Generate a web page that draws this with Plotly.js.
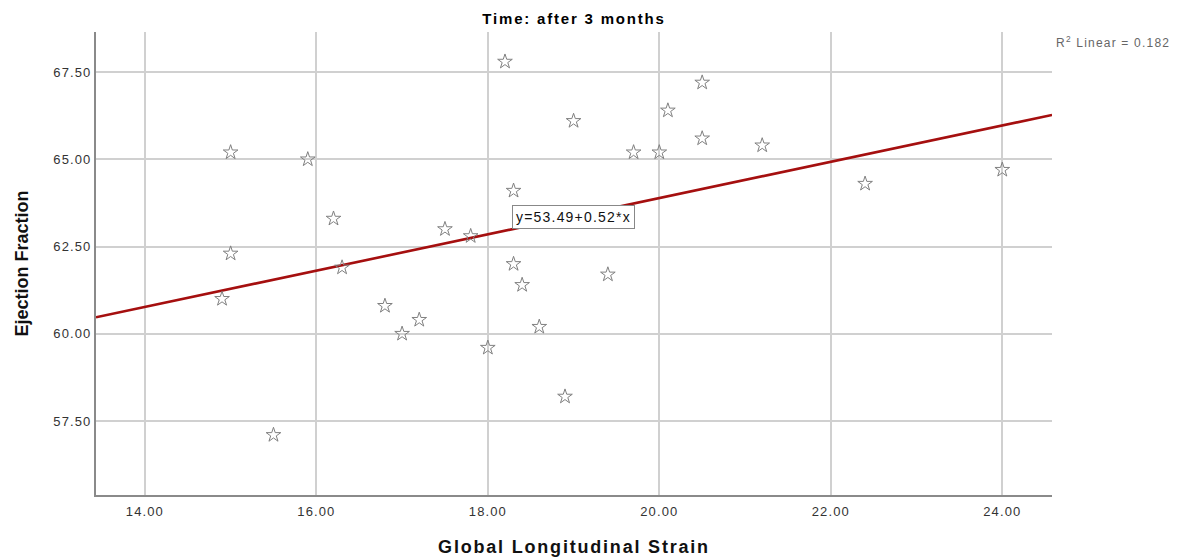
<!DOCTYPE html>
<html>
<head>
<meta charset="utf-8">
<script src="https://cdn.plot.ly/plotly-3.0.1.min.js"></script>
<style>
html,body{margin:0;padding:0;background:#fff;}
#chart{width:1184px;height:557px;}
.gtitle{letter-spacing:1.8px;}
.xtitle{letter-spacing:1.8px;}
.xtick text,.ytick text{letter-spacing:1.1px;}
.annotation-text{letter-spacing:1.2px;}
</style>
</head>
<body>
<div id="chart"></div>
<script>
const strainValues = [14.9, 15.0, 15.0, 15.5, 15.9, 16.2, 16.3, 16.8, 17.0, 17.2, 17.5, 17.8, 18.0, 18.2, 18.3, 18.3, 18.4, 18.6, 18.9, 19.0, 19.4, 19.7, 20.0, 20.1, 20.5, 20.5, 21.2, 22.4, 24.0];
const efValues =     [61.0, 65.2, 62.3, 57.1, 65.0, 63.3, 61.9, 60.8, 60.0, 60.4, 63.0, 62.8, 59.6, 67.8, 64.1, 62.0, 61.4, 60.2, 58.2, 66.1, 61.7, 65.2, 65.2, 66.4, 67.2, 65.6, 65.4, 64.3, 64.7];
const fitIntercept = 53.49;
const fitSlope = 0.52;
const rSquared = 0.182;
const xTicks = [14, 16, 18, 20, 22, 24];
const yTicks = [57.5, 60, 62.5, 65, 67.5];
const xRange = [13.43, 24.58];
const yRange = [55.38, 68.65];

const fitX = [xRange[0], xRange[1]];
const fitY = fitX.map(x => fitIntercept + fitSlope * x);

const traces = [
  {
    x: fitX, y: fitY, mode: 'lines', type: 'scatter',
    line: {color: '#A50F0F', width: 2.6}, hoverinfo: 'skip'
  },
  {
    x: strainValues, y: efValues, mode: 'markers', type: 'scatter',
    marker: {symbol: 'star-open', size: 11, color: '#808080', line: {width: 1, color: '#808080'}}
  }
];

const layout = {
  width: 1184, height: 557,
  margin: {l: 96, r: 132, t: 32, b: 62},
  paper_bgcolor: '#fff', plot_bgcolor: '#fff',
  showlegend: false,
  font: {family: 'Liberation Sans, Arial, sans-serif', color: '#333'},
  title: {text: '<b>Time: after 3 months</b>', x: 0.5, xref: 'paper', y: 0.967, yanchor: 'middle', font: {size: 15, color: '#000'}},
  xaxis: {
    range: xRange, tickvals: xTicks, ticktext: xTicks.map(v => v.toFixed(2)),
    showgrid: true, gridcolor: '#d0d0d0', gridwidth: 2,
    showline: true, linecolor: '#8a8a8a', linewidth: 2, zeroline: false,
    ticks: '', ticklabelstandoff: 3, tickfont: {size: 13, color: '#333'},
    title: {text: '<b>Global Longitudinal Strain</b>', font: {size: 18, color: '#111'}, standoff: 24}
  },
  yaxis: {
    range: yRange, tickvals: yTicks, ticktext: yTicks.map(v => v.toFixed(2)),
    showgrid: true, gridcolor: '#d0d0d0', gridwidth: 2,
    showline: true, linecolor: '#8a8a8a', linewidth: 2, zeroline: false,
    ticks: '', tickfont: {size: 13, color: '#333'},
    title: {text: '<b>Ejection Fraction</b>', font: {size: 18, color: '#111'}, standoff: 20}
  },
  annotations: [
    {
      x: 1.0638, y: 0.978, xref: 'paper', yref: 'paper', showarrow: false,
      text: 'R<sup>2</sup> Linear = ' + rSquared.toFixed(3),
      font: {size: 12, color: '#666'}, xanchor: 'center', yanchor: 'middle'
    },
    {
      x: 19.0, y: 63.35, xref: 'x', yref: 'y', showarrow: false,
      text: 'y=' + fitIntercept.toFixed(2) + '+' + fitSlope.toFixed(2) + '*x',
      font: {size: 14, color: '#111'}, bgcolor: '#fff', bordercolor: '#888', borderwidth: 1, borderpad: 3
    }
  ]
};

Plotly.newPlot('chart', traces, layout, {displayModeBar: false, staticPlot: true});
</script>
</body>
</html>
